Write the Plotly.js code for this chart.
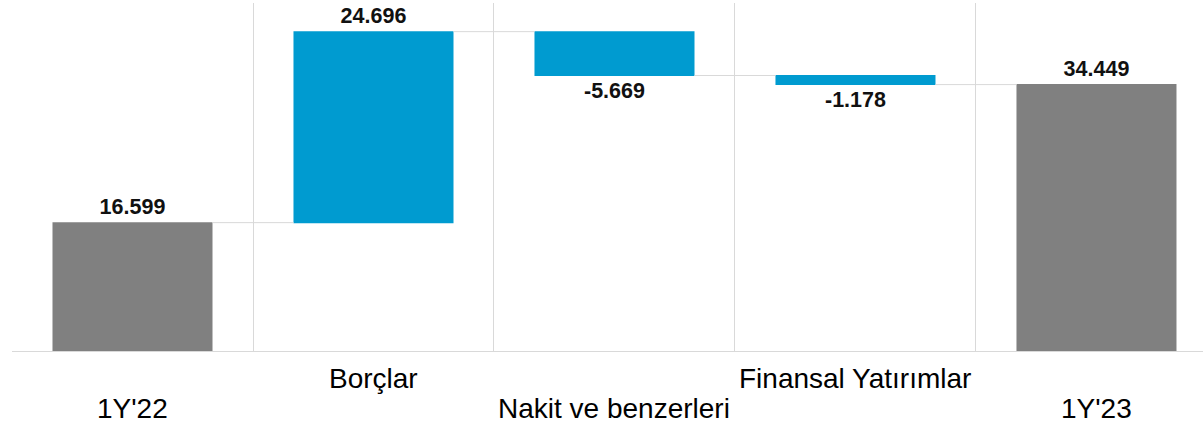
<!DOCTYPE html>
<html>
<head>
<meta charset="utf-8">
<script src="https://cdn.plot.ly/plotly-3.0.1.min.js"></script>
<style>html,body{margin:0;padding:0;background:#fff;}#chart{width:1203px;height:427px;}</style>
</head>
<body>
<div id="chart"></div>
<script>
const categories = ["1Y'22", "Borçlar", "Nakit ve benzerleri", "Finansal Yatırımlar", "1Y'23"];
const values = [16.599, 24.696, -5.669, -1.178, 34.449];
const measures = ["absolute", "relative", "relative", "relative", "absolute"];
const valueLabels = ["16.599", "24.696", "-5.669", "-1.178", "34.449"];
const labelRow = [1, 0, 1, 0, 1]; // 0 = upper row, 1 = lower row

const trace = {
  type: 'waterfall',
  x: categories,
  y: values,
  measure: measures,
  text: valueLabels,
  textposition: 'outside',
  textfont: {family: 'Liberation Sans, Arial, sans-serif', size: 21.5, color: '#111111', weight: 'bold'},
  cliponaxis: false,
  width: 0.664,
  increasing: {marker: {color: '#009BD0'}},
  decreasing: {marker: {color: '#009BD0'}},
  totals: {marker: {color: '#808080'}},
  connector: {mode: 'between', line: {color: '#D9D9D9', width: 1}},
  hoverinfo: 'none'
};

const annotations = categories.map((c, i) => ({
  x: c, xref: 'x',
  y: labelRow[i] === 0 ? -0.078 : -0.164, yref: 'paper',
  yanchor: 'middle', xanchor: 'center',
  text: c, showarrow: false,
  font: {family: 'Liberation Sans, Arial, sans-serif', size: 28, color: '#000000'}
}));

const layout = {
  width: 1203, height: 427,
  margin: {l: 12, r: 0, t: 3, b: 76},
  paper_bgcolor: '#ffffff', plot_bgcolor: '#ffffff',
  showlegend: false,
  xaxis: {
    type: 'category',
    range: [-0.5, 4.442],
    tickson: 'boundaries',
    showgrid: true, gridcolor: '#D9D9D9', gridwidth: 1,
    showline: true, linecolor: '#D9D9D9', linewidth: 1,
    showticklabels: false, ticks: '',
    fixedrange: true
  },
  yaxis: {
    range: [0, 45.0],
    showgrid: false, zeroline: false, showline: false,
    showticklabels: false, ticks: '',
    fixedrange: true
  },
  annotations: annotations
};

Plotly.newPlot('chart', [trace], layout, {displayModeBar: false, staticPlot: true});
</script>
</body>
</html>
